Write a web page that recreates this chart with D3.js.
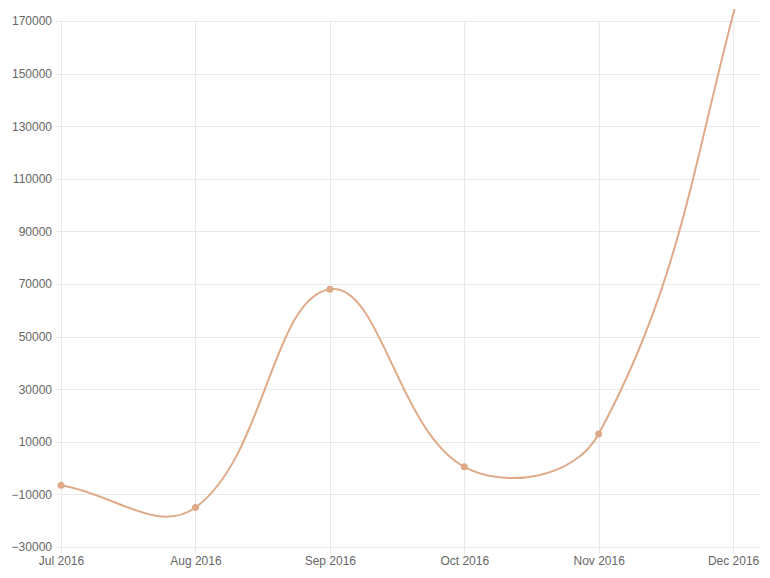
<!DOCTYPE html>
<html><head><meta charset="utf-8">
<script src="https://cdn.jsdelivr.net/npm/d3@7"></script>
<style>html,body{margin:0;padding:0;background:#fff;}svg{display:block;}</style>
</head><body>
<svg id="chart" width="770" height="578"></svg>
<script>
// month labels (tick positions are month indices 0..5)
const months = ["Jul 2016","Aug 2016","Sep 2016","Oct 2016","Nov 2016","Dec 2016"];
// data points: position in months since Jul 1 2016 (last point ~Dec 7) and value
const pointMonth = [0, 1, 2, 3, 4, 5.2];
const values = [-6500, -15000, 68000, 500, 13000, 208000];
const yTicks = [-30000,-10000,10000,30000,50000,70000,90000,110000,130000,150000,170000];

const svg = d3.select("#chart");
const mLeft = 61, mRight = 760, mTop = 21, mBottom = 547, clipTop = 9;
const x = d3.scaleLinear().domain([0, d3.max(pointMonth)]).range([mLeft, mRight]);
const y = d3.scaleLinear().domain([-30000, 170000]).range([mBottom, mTop]);
const grid = "#e9e9e9", txt = "#666", col = "#dfaa88";
const font = "Liberation Sans, Arial, Helvetica, sans-serif";

// horizontal grid + y labels
const yAxis = d3.axisLeft(y).tickValues(yTicks).tickSize(-(mRight - mLeft)).tickSizeOuter(0).tickPadding(10).tickFormat(d3.format("d"));
const gy = svg.append("g").attr("transform", `translate(${mLeft},0)`).call(yAxis);
gy.select(".domain").remove();
gy.selectAll(".tick line").attr("stroke", grid).attr("x1", -5).attr("shape-rendering","crispEdges");
gy.selectAll(".tick text").attr("fill", txt).attr("font-size", 12).attr("font-family", font).attr("x", -9);

// vertical grid + month labels
const xAxis = d3.axisBottom(x).tickValues(months.map((m, i) => i)).tickFormat(i => months[i])
  .tickSize(-(mBottom - mTop)).tickSizeOuter(0).tickPadding(12);
const gx = svg.append("g").attr("transform", `translate(0,${mBottom})`).call(xAxis);
gx.select(".domain").remove();
gx.selectAll(".tick line").attr("stroke", grid).attr("y1", 6).attr("shape-rendering","crispEdges");
gx.selectAll(".tick text").attr("fill", txt).attr("font-size", 12).attr("font-family", font).attr("y", 9).attr("dy","0.71em");

// Chart.js-like spline (tension 0.4, control points capped to chart area)
const pts = values.map((v, i) => ({ x: x(pointMonth[i]), y: y(v) }));
const tension = 0.4;
const clampY = v => Math.max(mTop, Math.min(mBottom, v));
const clampX = v => Math.max(mLeft, Math.min(mRight, v));
const cps = pts.map((p, i) => {
  const prev = pts[i - 1] || p, next = pts[i + 1] || p;
  const d01 = Math.hypot(p.x - prev.x, p.y - prev.y);
  const d12 = Math.hypot(next.x - p.x, next.y - p.y);
  let s01 = d01 / (d01 + d12), s12 = d12 / (d01 + d12);
  if (isNaN(s01)) s01 = 0; if (isNaN(s12)) s12 = 0;
  const fa = tension * s01, fb = tension * s12;
  return {
    pX: clampX(p.x - fa * (next.x - prev.x)), pY: clampY(p.y - fa * (next.y - prev.y)),
    nX: clampX(p.x + fb * (next.x - prev.x)), nY: clampY(p.y + fb * (next.y - prev.y))
  };
});
const path = d3.path();
path.moveTo(pts[0].x, pts[0].y);
for (let i = 1; i < pts.length; i++) {
  path.bezierCurveTo(cps[i - 1].nX, cps[i - 1].nY, cps[i].pX, cps[i].pY, pts[i].x, pts[i].y);
}
svg.append("clipPath").attr("id", "clip").append("rect")
  .attr("x", mLeft - 5).attr("y", clipTop).attr("width", mRight - mLeft + 10).attr("height", mBottom - clipTop + 5);
const plot = svg.append("g").attr("clip-path", "url(#clip)");
plot.append("path").attr("d", path.toString()).attr("fill", "none").attr("stroke", col).attr("stroke-width", 2);
plot.selectAll("circle").data(pts.filter(p => p.y >= mTop)).enter().append("circle")
  .attr("cx", d => d.x).attr("cy", d => d.y).attr("r", 3.5).attr("fill", col);
</script>
</body></html>
